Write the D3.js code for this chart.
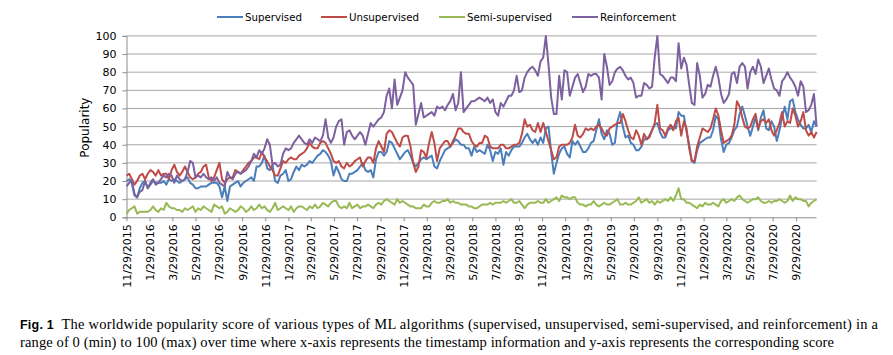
<!DOCTYPE html>
<html>
<head>
<meta charset="utf-8">
<script src="https://cdn.jsdelivr.net/npm/d3@7"></script>
<style>
  html, body { margin: 0; padding: 0; background: #ffffff; }
  svg { display: block; }
</style>
</head>
<body>
<svg id="chart" width="893" height="355"></svg>
<script>
// ---------------- DATA ----------------
const startDate = "11/29/2015";   // first weekly observation
const seriesNames = ["Supervised", "Unsupervised", "Semi-supervised", "Reinforcement"];
const seriesColors = ["#4A7EBB", "#BE4B48", "#98B954", "#7D60A0"];

const supervised = [
  20,21,19,12,11,16,19,20,16,18, 20,19,19,19,20,18,21,20,21,20, 19,20,21,22,19,18,16,16,17,17,
  17,18,19,19,19,17,11,17,9,17, 18,19,20,17,19,20,21,22,20,28, 28,30,34,
  27,26,29,20,19,23,24,26,20,21, 25,28,26,29,28,29,31,30,32,34, 35,37,36,34,31,23,28,25,21,20,
  20,24,24,25,26,28,30,26,25,26, 22,32,36,36,34,36,42,41,38,35, 32,
  34,36,37,34,30,28,30,32,33,32, 33,34,28,27,31,34,37,38,39,41, 43,42,40,40,38,38,34,39,36,37,
  36,35,40,37,31,36,35,38,29,36, 34,37,39,39,39,41,44,46,43,41, 43,40,44,
  41,49,50,36,24,30,35,38,39,35, 33,42,40,42,39,36,36,38,41,42, 48,54,46,43,48,46,40,41,53,58,
  50,44,45,41,40,37,37,39,43,43, 45,48,51,52,47,44,44,48,49,50, 49,
  58,56,56,47,40,31,30,37,41,42, 43,44,44,48,56,54,43,36,40,41, 44,48,50,57,61,56,50,45,50,55,
  48,55,59,49,48,53,50,42,48,55, 61,54,64,65,58,54,51,49,49,51, 47,53,50
];
const unsupervised = [
  23,24,21,18,20,23,24,21,24,26, 25,23,26,23,24,24,21,26,29,25, 23,25,28,25,22,21,22,24,25,28,
  29,22,20,22,26,30,21,19,21,22, 22,26,25,24,26,28,30,31,33,33, 32,36,33,
  31,28,26,23,23,27,31,30,32,33, 32,32,34,35,36,38,41,39,38,38, 41,42,41,38,35,31,30,31,28,27,
  30,28,29,31,32,33,28,31,33,33, 30,38,42,39,36,46,48,47,44,41, 39,
  44,45,45,39,30,25,28,37,36,33, 41,47,41,31,38,40,42,42,39,42, 45,49,49,47,46,46,42,40,39,41,
  41,45,44,39,38,38,38,40,40,38, 38,39,40,40,41,46,54,50,51,48, 47,52,47,
  52,47,42,37,32,33,39,40,40,40, 41,44,51,45,44,46,49,48,49,48, 50,51,49,46,45,49,50,51,52,52,
  57,53,48,44,43,48,45,40,46,43, 44,48,52,62,49,48,45,49,51,48, 53,
  55,45,53,49,38,31,31,39,44,49, 48,47,49,54,60,56,48,41,42,43, 45,51,64,61,55,50,49,50,54,57,
  49,53,54,52,54,48,45,48,52,58, 50,53,52,60,56,50,53,58,48,45, 47,44,47
];
const semiSupervised = [
  2,4,5,6,2,3,3,3,3,4, 6,4,3,5,4,8,6,5,5,4, 4,3,5,4,5,6,3,5,4,6,
  5,4,3,7,6,5,6,2,3,5, 4,3,4,6,5,3,4,6,4,5, 7,5,6,
  4,3,5,8,4,5,6,5,4,6, 3,5,6,6,5,4,6,5,7,5, 6,8,7,6,8,9,9,6,5,6,
  5,8,5,6,7,5,6,6,7,6, 5,7,8,7,9,10,9,8,7,10, 8,
  9,8,7,6,6,5,5,5,7,6, 6,8,9,8,8,9,9,10,8,9, 8,8,7,7,7,6,6,5,5,6,
  7,7,7,8,7,8,8,8,9,8, 9,10,8,8,9,7,5,7,8,8, 8,9,8,
  8,10,8,9,10,11,9,12,11,11, 10,11,11,8,7,7,6,7,7,9, 7,6,7,8,7,7,8,9,10,7,
  7,8,7,7,8,9,11,8,9,10, 8,9,7,9,8,9,10,9,11,9, 12,
  16,10,10,8,8,7,6,5,7,6, 8,7,7,8,7,6,9,10,8,9, 10,9,11,12,10,9,8,9,10,10,
  11,9,8,8,9,8,9,9,10,9, 8,9,12,9,11,10,10,9,9,6, 8,9,10
];
const reinforcement = [
  17,19,20,13,11,14,15,20,16,19, 21,18,19,21,23,22,24,23,19,23, 21,20,21,25,31,30,22,23,22,24,
  22,21,22,20,22,19,18,17,25,22, 21,24,25,24,25,26,28,31,35,33, 37,35,38,
  43,40,29,30,28,29,35,38,37,38, 41,43,45,43,41,40,43,41,44,43, 42,45,54,44,41,44,50,53,54,40,
  47,48,45,43,45,47,45,40,46,52, 50,52,54,55,58,67,71,60,76,62, 66,
  70,80,77,75,73,51,57,63,55,56, 57,58,56,61,60,61,59,62,64,68, 59,63,80,58,60,62,64,64,65,66,
  65,64,66,63,65,58,56,63,61,64, 67,67,70,78,69,70,77,80,82,83, 81,78,86,
  88,100,84,66,57,57,78,65,81,80, 67,72,77,79,74,69,72,79,78,79, 79,77,65,90,83,73,75,80,82,83,
  81,78,76,77,74,66,67,67,74,73, 71,72,88,100,79,78,76,74,77,77, 75,
  96,82,88,84,73,63,62,85,78,66, 68,73,72,78,83,77,68,63,65,68, 79,80,74,83,85,83,71,80,83,79,
  87,83,74,78,82,76,71,70,67,75, 77,80,77,75,72,67,75,72,58,59, 62,68,50
];

const xTickLabels = ["11/29/2015","1/29/2016","3/29/2016","5/29/2016","7/29/2016","9/29/2016",
  "11/29/2016","1/29/2017","3/29/2017","5/29/2017","7/29/2017","9/29/2017",
  "11/29/2017","1/29/2018","3/29/2018","5/29/2018","7/29/2018","9/29/2018",
  "11/29/2018","1/29/2019","3/29/2019","5/29/2019","7/29/2019","9/29/2019",
  "11/29/2019","1/29/2020","3/29/2020","5/29/2020","7/29/2020","9/29/2020"];
const yTicks = [0,10,20,30,40,50,60,70,80,90,100];
const yLabel = "Popularity";
const captionBold = "Fig. 1";
const captionLine1 = "  The worldwide popularity score of various types of ML algorithms (supervised, unsupervised, semi-supervised, and reinforcement) in a";
const captionLine2 = "range of 0 (min) to 100 (max) over time where x-axis represents the timestamp information and y-axis represents the corresponding score";

// ---------------- CHART ----------------
const svg = d3.select("#chart");
const parse = d3.timeParse("%m/%d/%Y");
const allSeries = [supervised, unsupervised, semiSupervised, reinforcement];
const n = d3.min(allSeries, s => s.length);
const t0 = parse(startDate);
const dates = d3.range(n).map(i => d3.timeWeek.offset(t0, i));

const pLeft = 126.5, pRight = 816.6, pTop = 35.9, pBottom = 217.3;
const x = d3.scaleTime().domain([dates[0], dates[n - 1]]).range([pLeft, pRight]);
const y = d3.scaleLinear().domain([0, 100]).range([pBottom, pTop]);

const gridColor = "#A6A6A6";
const axisColor = "#8C8C8C";
const textFont = "'DejaVu Sans', Verdana, sans-serif";

// gridlines
svg.append("g").selectAll("line").data(yTicks.filter(d => d > 0)).join("line")
  .attr("x1", pLeft).attr("x2", pRight)
  .attr("y1", d => y(d)).attr("y2", d => y(d))
  .attr("stroke", gridColor).attr("stroke-width", 1);

// y axis
const yAxis = svg.append("g").attr("transform", `translate(${pLeft},0)`)
  .call(d3.axisLeft(y).tickValues(yTicks).tickSize(4).tickPadding(6));
yAxis.select(".domain").attr("stroke", axisColor);
yAxis.selectAll(".tick line").attr("stroke", axisColor);
yAxis.selectAll(".tick text").attr("font-family", textFont).attr("font-size", 11).attr("fill", "#000");

// x axis
const xTickDates = xTickLabels.map(parse);
const xAxis = svg.append("g").attr("transform", `translate(0,${pBottom})`)
  .call(d3.axisBottom(x).tickValues(xTickDates).tickSize(4)
    .tickFormat((d, i) => xTickLabels[i]));
xAxis.select(".domain").attr("stroke", axisColor).attr("d", `M${pLeft},0.5H${pRight}`);
xAxis.selectAll(".tick line").attr("stroke", axisColor);
xAxis.selectAll(".tick text")
  .attr("font-family", textFont).attr("font-size", 11).attr("fill", "#000")
  .attr("transform", "rotate(-90)")
  .attr("text-anchor", "end")
  .attr("x", -7).attr("y", 0).attr("dy", "0.35em");

// y label
svg.append("text")
  .attr("transform", `translate(89,${(pTop + pBottom) / 2 + 1}) rotate(-90)`)
  .attr("text-anchor", "middle")
  .attr("font-family", textFont).attr("font-size", 12)
  .text(yLabel);

// lines
const line = d3.line().x((d, i) => x(dates[i])).y(d => y(d));
allSeries.forEach((s, k) => {
  svg.append("path")
    .datum(s.slice(0, n))
    .attr("fill", "none")
    .attr("stroke", seriesColors[k])
    .attr("stroke-width", 2)
    .attr("stroke-linejoin", "round")
    .attr("d", line);
});

// legend
const legendItems = [
  { x0: 217, x1: 243, tx: 245, w: 57 },
  { x0: 321, x1: 347, tx: 349, w: 70 },
  { x0: 439, x1: 465, tx: 467, w: 85 },
  { x0: 572, x1: 598, tx: 600, w: 76 }
];
const lg = svg.append("g");
seriesNames.forEach((name, k) => {
  const it = legendItems[k];
  lg.append("line").attr("x1", it.x0).attr("x2", it.x1).attr("y1", 17).attr("y2", 17)
    .attr("stroke", seriesColors[k]).attr("stroke-width", 2);
  lg.append("text").attr("x", it.tx).attr("y", 21)
    .attr("font-family", textFont).attr("font-size", 10.5)
    .attr("textLength", it.w).attr("lengthAdjust", "spacingAndGlyphs")
    .text(name);
});

// caption
const cap = svg.append("g").attr("font-family", "'Liberation Serif', 'Times New Roman', serif").attr("font-size", 14.5).attr("fill", "#000");
const l1 = cap.append("text").attr("x", 20).attr("y", 329).attr("textLength", 858).attr("lengthAdjust", "spacing").attr("xml:space", "preserve");
l1.append("tspan").attr("font-weight", "bold").attr("font-family", "'Liberation Sans', Arial, sans-serif").attr("font-size", 12.5).text(captionBold);
l1.append("tspan").text(captionLine1);
cap.append("text").attr("x", 20).attr("y", 347).attr("textLength", 814).attr("lengthAdjust", "spacing").text(captionLine2);
</script>
</body>
</html>
